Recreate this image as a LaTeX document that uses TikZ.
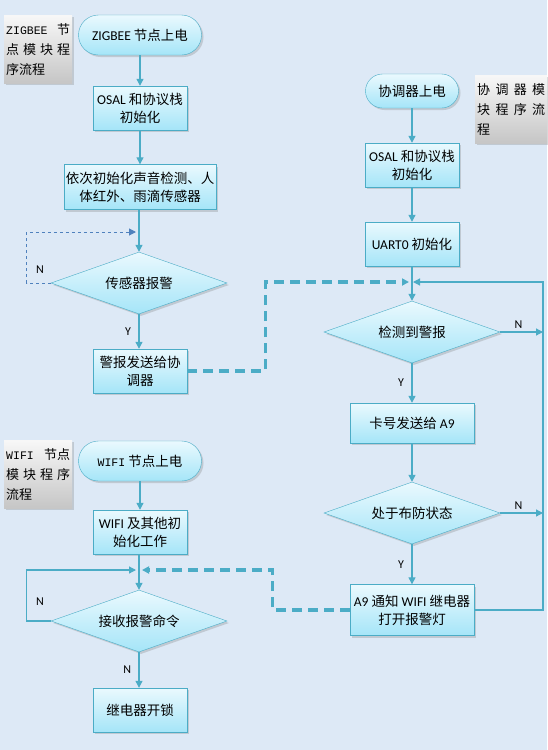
\documentclass[tikz,border=0pt]{standalone}
\usepackage{fontspec}
\setmainfont{Noto Sans CJK SC}
\setmonofont{Liberation Mono}
\newfontfamily\latin{Carlito}
\usetikzlibrary{shapes.geometric,shadows,arrows.meta}

\definecolor{pagebg}{HTML}{DDE9F6}
\definecolor{boxline}{HTML}{4BACC6}
\definecolor{boxtop}{HTML}{EAF9FE}
\definecolor{boxbot}{HTML}{A5E5F8}
\definecolor{loopline}{HTML}{4F81BD}

\newcommand{\lat}[1]{{\latin\fontsize{13.5}{18}\selectfont #1}}
\newcommand{\mono}[1]{{\ttfamily\fontsize{11.5}{16}\selectfont #1}}

\begin{document}
\begin{tikzpicture}[x=1pt,y=-1pt,font=\fontsize{13.5}{18}\selectfont,
    >={Triangle[width=7pt,length=7pt]}]
    \tikzstyle{box}=[rectangle,draw=boxline,top color=boxtop,bottom color=boxbot,
        drop shadow={opacity=0.3,shadow xshift=2pt,shadow yshift=-2pt},
        inner sep=0pt,align=center]
    \tikzstyle{terminal}=[box,rounded corners=20pt,minimum width=123pt,minimum height=40pt]
    \tikzstyle{process}=[box,minimum width=94pt,minimum height=44pt]
    \tikzstyle{decision}=[box,diamond,aspect=2.8,minimum width=176pt,minimum height=62pt]
    \tikzstyle{note}=[rectangle,top color=gray!6,bottom color=gray!45,
        drop shadow={opacity=0.3,shadow xshift=2pt,shadow yshift=-2pt},
        text width=64pt,minimum height=68pt,inner sep=2pt,align=left,anchor=north west,
        font=\fontsize{13}{20}\selectfont]
    \tikzstyle{flow}=[draw=boxline,line width=1.2pt,->]
    \tikzstyle{link}=[flow,line width=3.2pt,dash pattern=on 10pt off 6pt]
    \tikzstyle{loop}=[draw=loopline,line width=1pt,dashed,->]
    \tikzstyle{yn}=[font=\latin\fontsize{12}{14}\selectfont]

    \fill[pagebg] (0,0) rectangle (547,750);

    % ZIGBEE node
    \node[note] (zlabel) at (4,15) {\mono{ZIGBEE}\hfill 节\\点\hfill 模\hfill 块\hfill 程\\序流程};
    \node[terminal] (zstart) at (140,35) {\lat{ZIGBEE} 节点上电};
    \node[process] (zosal) at (140,108) {\lat{OSAL} 和协议栈\\初始化};
    \node[process,minimum width=152pt,minimum height=45pt] (zinit) at (140,187)
        {依次初始化声音检测、人\\体红外、雨滴传感器};
    \coordinate (zmerge) at (139,232);
    \node[decision] (zalarm) at (139,283) {传感器报警};
    \node[process] (zsend) at (140,371) {警报发送给协\\调器};

    % coordinator
    \node[note,text width=68pt] (clabel) at (475,75) {协\hfill 调\hfill 器\hfill 模\\块\hfill 程\hfill 序\hfill 流\\程};
    \node[terminal,minimum width=93pt,minimum height=34pt,rounded corners=17pt] (cstart) at (412,91) {协调器上电};
    \node[process] (cosal) at (412,165) {\lat{OSAL} 和协议栈\\初始化};
    \node[process] (cuart) at (412,244) {\lat{UART0} 初始化};
    \coordinate (cmerge) at (412,282);
    \coordinate (cright) at (543,282);
    \node[decision] (cdetect) at (412,332) {检测到警报};
    \node[process,minimum width=124pt,minimum height=40pt] (ccard) at (412,423) {卡号发送给 \lat{A9}};
    \node[decision] (cstate) at (412,513) {处于布防状态};
    \node[process,minimum width=124pt,minimum height=51pt] (cnotify) at (412,610)
        {\lat{A9} 通知 \lat{WIFI} 继电器\\打开报警灯};

    % WIFI node
    \node[note] (wlabel) at (4,440) {\mono{WIFI}\hfill 节点\\模\hfill 块\hfill 程\hfill 序\\流程};
    \node[terminal] (wstart) at (140,461) {\mono{WIFI} 节点上电};
    \node[process] (winit) at (140,532) {\lat{WIFI} 及其他初\\始化工作};
    \coordinate (wmerge) at (139,570);
    \node[decision] (wrecv) at (139,621) {接收报警命令};
    \node[process] (wlock) at (140,710) {继电器开锁};

    \draw[flow] (zstart) -- (zosal);
    \draw[flow] (zosal) -- (zinit);
    \draw[flow] (zinit.south -| zmerge) -- (zalarm);
    \draw[loop] (zalarm.west) -- ++(-24,0) |- ([xshift=-3pt]zmerge);
    \node[yn] at (40,270) {N};
    \draw[flow] (zalarm) -- node[yn,left=4pt] {Y} (zsend.north -| zalarm);
    \draw[link] (zsend.east) -- ++(78,0) |- ([xshift=-3pt]cmerge);

    \draw[flow] (cstart) -- (cosal);
    \draw[flow] (cosal) -- (cuart);
    \draw[flow] (cuart) -- (cdetect);
    \draw[flow] (cdetect.east) -- node[yn,above,xshift=-3pt] {N} (cdetect.east -| cright);
    \draw[flow] (cdetect) -- node[yn,left=4pt] {Y} (ccard);
    \draw[flow] (ccard) -- (cstate);
    \draw[flow] (cstate.east) -- node[yn,above,xshift=-3pt] {N} (cstate.east -| cright);
    \draw[flow] (cstate) -- node[yn,left=4pt] {Y} (cnotify);
    \draw[flow] (cnotify.east) -- (cnotify.east -| cright) -- (cright) -- ([xshift=1pt]cmerge);

    \draw[flow] (wstart) -- (winit);
    \draw[flow] (winit.south -| wmerge) -- (wrecv);
    \draw[flow] (wrecv.west) -- ++(-24,0) |- ([xshift=-3pt]wmerge);
    \node[yn] at (40,602) {N};
    \draw[flow] (wrecv) -- node[yn,left=4pt] {N} (wlock.north -| wrecv);
    \draw[link] (cnotify.west) -- ++(-77,0) |- ([xshift=3pt]wmerge);
\end{tikzpicture}
\end{document}
